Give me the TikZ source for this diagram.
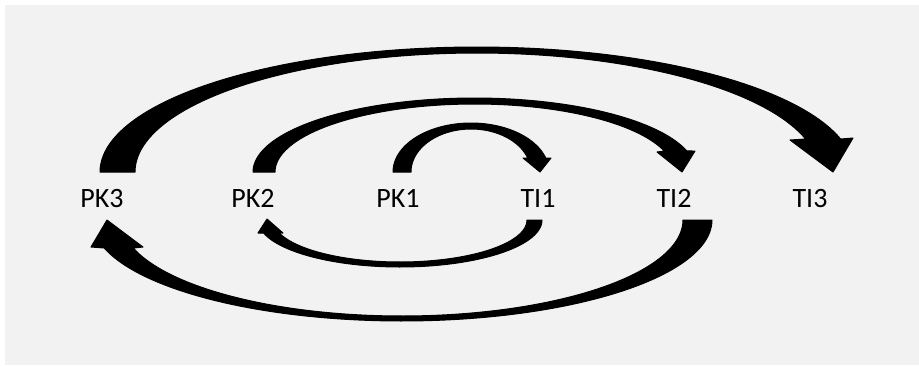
\documentclass[tikz,border=0pt]{standalone}
\usepackage{fontspec}
\setmainfont{Carlito}
\definecolor{bggrey}{HTML}{F2F2F2}
\begin{document}
\begin{tikzpicture}[x=1pt,y=-1pt,
  blockarrow/.style={fill=black,draw=black,line width=1pt,line join=round},
  lbl/.style={font=\fontsize{28}{28}\selectfont,anchor=base,inner sep=0pt}]
\useasboundingbox (0,0) rectangle (919,365);
\fill[bggrey] (5,5) rectangle (919,365);
% labels
\node[lbl] (pk3) at (102,207) {PK3};
\node[lbl] (pk2) at (253,207) {PK2};
\node[lbl] (pk1) at (398,207) {PK1};
\node[lbl] (ti1) at (538,207) {TI1};
\node[lbl] (ti2) at (674,207) {TI2};
\node[lbl] (ti3) at (810,207) {TI3};
% PK3 -> TI3
\filldraw[blockarrow] plot[domain=180:16.1,samples=90] ({477+342*cos(\x)},{172-119*sin(\x)})
  -- (790,140) -- (833,172) -- (853,138)
  -- plot[domain=15.3:180,samples=90] ({477+377*cos(\x)},{172-125*sin(\x)}) -- cycle;
% PK2 -> TI2
\filldraw[blockarrow] plot[domain=180:18.0,samples=80] ({474.5+199.5*cos(\x)},{172-68*sin(\x)})
  -- (657,152) -- (682,172) -- (695,151)
  -- plot[domain=16.5:180,samples=80] ({474.5+221.5*cos(\x)},{172-74*sin(\x)}) -- cycle;
% PK1 -> TI1
\filldraw[blockarrow] plot[domain=180:19.0,samples=60] ({471+60*cos(\x)},{172-43*sin(\x)})
  -- (523,158) -- (540,172) -- (551,158)
  -- plot[domain=16.6:180,samples=60] ({471+78*cos(\x)},{172-49*sin(\x)}) -- cycle;
% TI1 -> PK2
\filldraw[blockarrow] plot[domain=0:162,samples=70] ({400+127*cos(\x)},{220+42*sin(\x)})
  -- (283,233) -- (267,219) -- (258,233)
  -- plot[domain=163.9:0,samples=70] ({400+142*cos(\x)},{220+47*sin(\x)}) -- cycle;
% TI2 -> PK3
\filldraw[blockarrow] plot[domain=0:163,samples=90] ({402+281*cos(\x)},{220+96*sin(\x)})
  -- (143,247) -- (107,220) -- (91,247)
  -- plot[domain=163.9:0,samples=90] ({402+310*cos(\x)},{220+101*sin(\x)}) -- cycle;
\end{tikzpicture}
\end{document}
